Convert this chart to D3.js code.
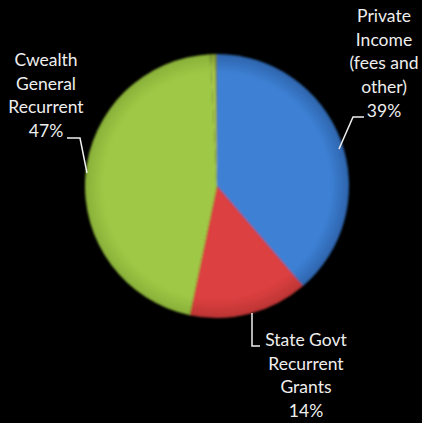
<!DOCTYPE html>
<html><head><meta charset="utf-8">
<script src="https://cdn.jsdelivr.net/npm/d3@7"></script>
<style>html,body{margin:0;padding:0;background:#000;}svg{display:block;}</style>
</head><body>
<svg id="c" width="422" height="423"></svg>
<script>
const categories = ["Private Income (fees and other)", "State Govt Recurrent Grants", "Cwealth General Recurrent", ""];
const values = [38.7, 14.6, 45.9, 0.8];
const percentLabels = ["39%", "14%", "47%", ""];
const labelLines = [["Private", "Income", "(fees and", "other)", "39%"], ["State Govt", "Recurrent", "Grants", "14%"], ["Cwealth", "General", "Recurrent", "47%"], []];
const colors = ["#3d80d4", "#dc3f3f", "#a0c846", "#a8c84e"];
const edgeColors = ["#2d64ac", "#bb3434", "#88b038", "#809a32"];

const svg = d3.select("#c");
const W = 422, H = 423;
svg.append("rect").attr("width", W).attr("height", H).attr("fill", "#000");
const cx = 217, cy = 186, R = 132;

const defs = svg.append("defs");
const blur = defs.append("filter").attr("id", "soft").attr("x", "-10%").attr("y", "-10%").attr("width", "120%").attr("height", "120%");
blur.append("feGaussianBlur").attr("stdDeviation", 1.2);
colors.forEach((c, i) => {
  const g = defs.append("radialGradient").attr("id", "g" + i)
    .attr("gradientUnits", "userSpaceOnUse").attr("cx", 0).attr("cy", 0).attr("r", R);
  g.append("stop").attr("offset", "0%").attr("stop-color", c);
  g.append("stop").attr("offset", "86%").attr("stop-color", c);
  g.append("stop").attr("offset", "100%").attr("stop-color", edgeColors[i]);
});

const pie = d3.pie().sort(null).value(d => d)(values);
const arc = d3.arc().innerRadius(0).outerRadius(R);
const gp = svg.append("g").attr("transform", `translate(${cx},${cy})`).attr("filter", "url(#soft)");
gp.selectAll("path").data(pie).join("path")
  .attr("d", arc).attr("fill", (d, i) => `url(#g${i})`);
// dark seam at 12 o'clock
const seam = pie[3];
gp.append("path").attr("d", d3.arc().innerRadius(0).outerRadius(R)({startAngle: seam.endAngle - 0.012, endAngle: seam.endAngle}))
  .attr("fill", "#5d6e1e");

// leader lines
const leaders = [
  [[364, 117], [353, 117], [339, 149]],
  [[252, 313], [252, 346], [260, 346]],
  [[67, 138], [80, 138], [87, 173]]
];
const line = d3.line();
svg.selectAll("path.leader").data(leaders).join("path").attr("class", "leader")
  .attr("d", line).attr("fill", "none").attr("stroke", "#f0f0f0").attr("stroke-width", 1.5);

// labels
const labelPos = [
  {x: 384, y: 22},
  {x: 306, y: 346},
  {x: 46, y: 66}
];
labelPos.forEach((p, i) => {
  const t = svg.append("text").attr("x", p.x).attr("y", p.y).attr("text-anchor", "middle")
    .attr("fill", "#eeeeee").attr("font-family", "Lato, 'Liberation Sans', sans-serif").attr("font-size", 17.5);
  labelLines[i].forEach((s, k) => {
    t.append("tspan").attr("x", p.x).attr("dy", k === 0 ? 0 : 23.7).text(s);
  });
});
</script>
</body></html>
